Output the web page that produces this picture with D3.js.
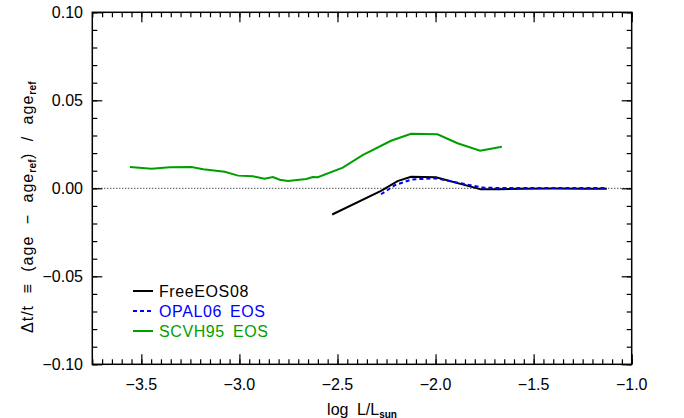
<!DOCTYPE html>
<html><head><meta charset="utf-8">
<script src="https://cdn.jsdelivr.net/npm/d3@7"></script>
<style>body{margin:0;background:#fff}svg{display:block}text{font-family:"Liberation Sans",Arial,sans-serif}</style>
</head><body><svg id="c" width="684" height="418"></svg>
<script>
const freeX = [-2.527,-2.278,-2.194,-2.125,-1.998,-1.769,-1.676,-1.55,-1.40,-1.25,-1.127];
const freeY = [-0.0149,-0.0015,0.0041,0.0066,0.0063,-0.0006,-0.0006,-0.0002,-0.0001,-0.0002,-0.0002];
const opalX = [-2.278,-2.205,-2.121,-1.998,-1.829,-1.753,-1.676,-1.55,-1.40,-1.25,-1.127];
const opalY = [-0.0034,0.0019,0.0050,0.0057,0.0019,0.0003,0.0002,0.0002,0.0002,0.0002,0.0002];
const scvhX = [-3.558,-3.448,-3.355,-3.244,-3.185,-3.075,-3.007,-2.931,-2.872,-2.829,-2.795,-2.753,-2.659,-2.626,-2.600,-2.473,-2.372,-2.227,-2.125,-1.990,-1.888,-1.773,-1.662];
const scvhY = [0.0121,0.0111,0.0119,0.0121,0.0108,0.0094,0.0072,0.0068,0.0055,0.0064,0.0049,0.0041,0.0053,0.0064,0.0063,0.0117,0.0189,0.0270,0.0310,0.0307,0.0256,0.0214,0.0236];
const xTicks = [-3.5,-3.0,-2.5,-2.0,-1.5,-1.0];
const yTicks = [-0.10,-0.05,0.00,0.05,0.10];
const legendNames = ["FreeEOS08","OPAL06 EOS","SCVH95 EOS"];
const legendColors = ["#000000","#0000ff","#009f00"];

const svg = d3.select("#c");
const L=92.3,R=631.7,T=12.3,B=364.3;
const x = d3.scaleLinear().domain([-3.75,-1.0]).range([L,R]);
const y = d3.scaleLinear().domain([-0.10,0.10]).range([B,T]);
const fmtX = v => d3.format(".1f")(v).replace("-","\u2212");
const fmtY = v => d3.format(".2f")(v).replace("-","\u2212");

// zero dotted line
svg.append("line").attr("x1",L).attr("x2",R).attr("y1",y(0)).attr("y2",y(0))
  .attr("stroke","#000").attr("stroke-width",1).attr("stroke-dasharray","1,2");

// axes
const xMinor = d3.range(-3.75,-0.999,0.05);
const yMinor = d3.range(-0.10,0.1001,0.01);
function addAxis(axis, tr){ const g=svg.append("g").attr("transform",tr).call(axis);
  g.select(".domain").remove(); g.selectAll("line").attr("stroke","#000").attr("stroke-width",1.2); return g;}
addAxis(d3.axisTop(x).tickValues(xMinor).tickSize(5).tickFormat(""),`translate(0,${B})`);
addAxis(d3.axisTop(x).tickValues(xTicks).tickSize(10).tickFormat(""),`translate(0,${B})`);
xTicks.forEach(v=>svg.append("text").attr("x",x(v)).attr("y",390).attr("text-anchor","middle").attr("font-size",16).text(fmtX(v)));
addAxis(d3.axisBottom(x).tickValues(xMinor).tickSize(5).tickFormat(""),`translate(0,${T})`);
addAxis(d3.axisBottom(x).tickValues(xTicks).tickSize(10).tickFormat(""),`translate(0,${T})`);
addAxis(d3.axisRight(y).tickValues(yMinor).tickSize(5).tickFormat(""),`translate(${L},0)`);
addAxis(d3.axisRight(y).tickValues(yTicks).tickSize(10).tickFormat(""),`translate(${L},0)`);
yTicks.forEach(v=>svg.append("text").attr("x",83).attr("y",y(v)+5.8).attr("text-anchor","end").attr("font-size",16).text(fmtY(v)));
addAxis(d3.axisLeft(y).tickValues(yMinor).tickSize(5).tickFormat(""),`translate(${R},0)`);
addAxis(d3.axisLeft(y).tickValues(yTicks).tickSize(10).tickFormat(""),`translate(${R},0)`);
svg.append("rect").attr("x",L).attr("y",T).attr("width",R-L).attr("height",B-T).attr("fill","none").attr("stroke","#000").attr("stroke-width",1.5);

// series
const line = d3.line().x(d=>x(d[0])).y(d=>y(d[1]));
const series = [
  {xs:freeX, ys:freeY, c:legendColors[0], dash:null},
  {xs:opalX, ys:opalY, c:legendColors[1], dash:"4,3"},
  {xs:scvhX, ys:scvhY, c:legendColors[2], dash:null}
];
series.forEach(s=>{
  svg.append("path").datum(s.xs.map((v,i)=>[v,s.ys[i]])).attr("d",line)
    .attr("fill","none").attr("stroke",s.c).attr("stroke-width",2).attr("stroke-dasharray",s.dash);
});

// legend
legendNames.forEach((n,i)=>{
  const yy = 291 + i*20;
  svg.append("line").attr("x1",133).attr("x2",153).attr("y1",yy).attr("y2",yy)
    .attr("stroke",legendColors[i]).attr("stroke-width",2).attr("stroke-dasharray",i===1?"4,3":null);
  svg.append("text").attr("x",159).attr("y",yy+5.8).attr("font-size",16).attr("fill",legendColors[i]).attr("letter-spacing",0.6).attr("word-spacing",3).text(n);
});

// x label
const xl = svg.append("text").attr("x",362).attr("y",414.5).attr("text-anchor","middle").attr("font-size",16).attr("word-spacing",4);
xl.append("tspan").text("log L/L");
xl.append("tspan").attr("font-size",10).attr("font-weight","bold").attr("dy",3).text("sun");

// y label
const yl = svg.append("text").attr("transform","translate(33,207) rotate(-90)").attr("text-anchor","middle").attr("font-size",16)
  .attr("letter-spacing",1).attr("word-spacing",6);
yl.append("tspan").text("\u0394t/t \u2261 (age \u2212 age");
yl.append("tspan").attr("font-size",10).attr("font-weight","bold").attr("letter-spacing",0.3).attr("dy",3).text("ref");
yl.append("tspan").attr("dy",-3).text(") / age");
yl.append("tspan").attr("font-size",10).attr("font-weight","bold").attr("letter-spacing",0.3).attr("dy",3).text("ref");
</script></body></html>
